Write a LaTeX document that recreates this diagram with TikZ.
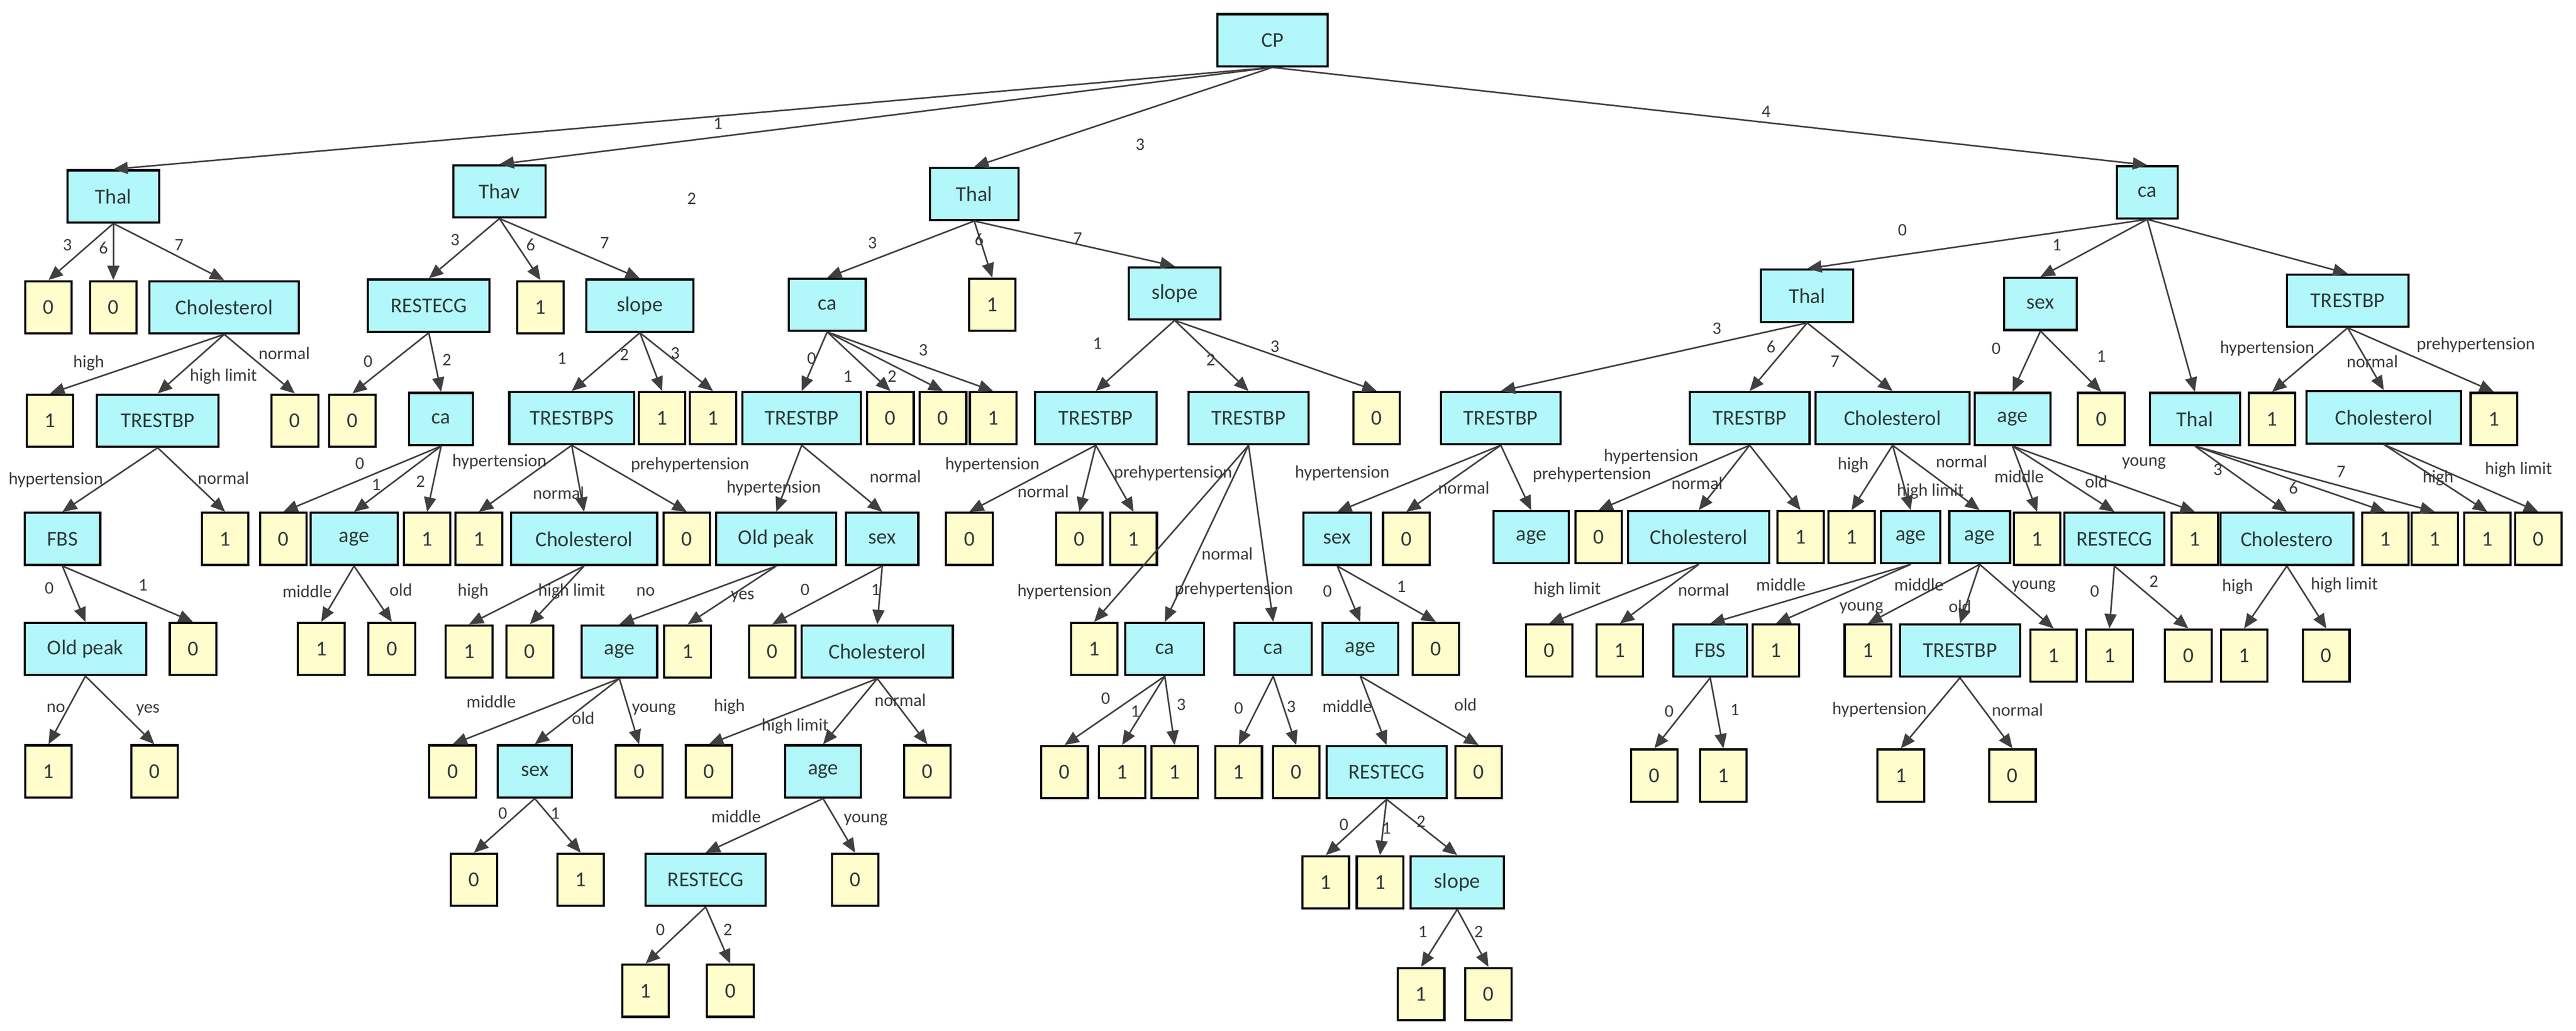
\documentclass[tikz,border=0pt]{standalone}
\usepackage{fontspec}
\setmainfont{Carlito}
\usetikzlibrary{arrows.meta}
\definecolor{bfill}{HTML}{B2F7F9}
\definecolor{lfill}{HTML}{FFFDCC}
\definecolor{tcol}{HTML}{2E3A3A}
\definecolor{ecol}{HTML}{404040}
\tikzset{
  bx/.style={draw=black,line width=1.5pt,fill=bfill,minimum height=1.3cm,inner sep=0pt,text=tcol,font=\fontsize{15}{18}\selectfont},
  lf/.style={draw=black,line width=1.5pt,fill=lfill,minimum height=1.3cm,minimum width=1.16cm,inner sep=0pt,text=tcol,font=\fontsize{15}{18}\selectfont},
  ed/.style={draw=ecol,line width=1.1pt,-{Triangle[length=0.36cm,width=0.3cm]}},
  lb/.style={text=ecol!90!black,inner sep=0pt,font=\fontsize{12.5}{14}\selectfont}
}
\newcommand\NB[5]{\node[bx,minimum width=#4*0.04096cm] (#1) at (#2,#3) {#5};}
\newcommand\NL[4]{\node[lf] (#1) at (#2,#3) {#4};}
\newcommand\ED[5]{\draw[ed] (#1.south) -- (#2.north); \node[lb] at (#3,#4) {#5};}
\newcommand\EDn[2]{\draw[ed] (#1.south) -- (#2.north);}
\begin{document}
\begin{tikzpicture}[x=0.04096cm,y=-0.04096cm]
\useasboundingbox[fill=white] (0,0) rectangle (1568,627.4);
% root
\NB{CP}{774.5}{24.5}{67}{CP}
\NB{T1}{69}{119.5}{56}{Thal}
\NB{Tv}{304}{116.5}{56}{Thav}
\NB{T3}{593}{118}{54}{Thal}
\NB{C4}{1307}{117}{37}{ca}
\ED{CP}{T1}{437}{75}{1}
\ED{CP}{Tv}{421}{121}{2}
\ED{CP}{T3}{694}{88}{3}
\ED{CP}{C4}{1075}{68}{4}
% Thal1 subtree
\NL{a1}{29.5}{187}{0}
\NL{a2}{69}{187}{0}
\NB{ch1}{136.5}{187}{91}{Cholesterol}
\ED{T1}{a1}{41}{149}{3}
\ED{T1}{a2}{63}{151}{6}
\ED{T1}{ch1}{109}{149}{7}
\NL{a3}{30.5}{256}{1}
\NB{tb1}{96}{256}{74}{TRESTBP}
\NL{a4}{179.5}{256}{0}
\ED{ch1}{a3}{54}{221}{high}
\ED{ch1}{tb1}{136}{229}{high limit}
\ED{ch1}{a4}{173}{215}{normal}
\NB{fbs1}{38}{328}{46}{FBS}
\NL{a5}{137}{328}{1}
\ED{tb1}{fbs1}{34}{292}{hypertension}
\ED{tb1}{a5}{136}{291}{normal}
\NB{op1}{52}{395}{74}{Old peak}
\NL{a6}{117.5}{395}{0}
\ED{fbs1}{op1}{30}{358}{0}
\ED{fbs1}{a6}{87}{356}{1}
\NL{a7}{29.5}{469.5}{1}
\NL{a8}{94}{469.5}{0}
\ED{op1}{a7}{34}{431}{no}
\ED{op1}{a8}{90}{432}{yes}
% Thav subtree
\NB{rc1}{261}{186}{74}{RESTECG}
\NL{b1}{329}{187}{1}
\NB{sl1}{389.5}{186}{65}{slope}
\ED{Tv}{rc1}{277}{146}{3}
\ED{Tv}{b1}{323}{149}{6}
\ED{Tv}{sl1}{368}{148}{7}
\NL{b2}{214.5}{256}{0}
\NB{ca1}{268.5}{255}{39}{ca}
\ED{rc1}{b2}{224}{220}{0}
\ED{rc1}{ca1}{272}{219}{2}
\NL{b3}{172.5}{328}{0}
\NB{ag1}{215.5}{328}{53}{age}
\NL{b4}{260}{328}{1}
\ED{ca1}{b3}{219}{282}{0}
\ED{ca1}{ag1}{229}{295}{1}
\ED{ca1}{b4}{256}{293}{2}
\NL{b5}{195.5}{395}{1}
\NL{b6}{238.5}{395}{0}
\ED{ag1}{b5}{187}{360}{middle}
\ED{ag1}{b6}{244}{359}{old}
\NB{tbs}{348}{254.5}{76}{TRESTBPS}
\NL{b7}{403}{254.5}{1}
\NL{b8}{434}{254.5}{1}
\ED{sl1}{tbs}{342}{218}{1}
\ED{sl1}{b7}{380}{216}{2}
\ED{sl1}{b8}{411}{215}{3}
\NL{b9}{291.5}{328}{1}
\NB{ch2}{355.5}{328}{89}{Cholesterol}
\NL{b10}{418}{328}{0}
\ED{tbs}{b9}{304}{281}{hypertension}
\ED{tbs}{ch2}{340}{300}{normal}
\ED{tbs}{b10}{420}{283}{prehypertension}
\NL{b11}{285.5}{396.5}{1}
\NL{b12}{322.5}{396.5}{0}
\ED{ch2}{b11}{288}{360}{high}
\ED{ch2}{b12}{348}{360}{high limit}
% Thal3 subtree
\NB{ca2}{503.5}{185.5}{47}{ca}
\NL{c1}{604}{185.5}{1}
\NB{sl2}{715}{178.5}{56}{slope}
\ED{T3}{ca2}{531}{148}{3}
\ED{T3}{c1}{596}{146}{6}
\ED{T3}{sl2}{656}{145}{7}
\NB{tb2}{488}{254.5}{72}{TRESTBP}
\NL{c2}{542}{254.5}{0}
\NL{c3}{574}{254.5}{0}
\NL{c4}{604.5}{254.5}{1}
\ED{ca2}{tb2}{494}{218}{0}
\ED{ca2}{c2}{516}{229}{1}
\ED{ca2}{c3}{543}{229}{2}
\ED{ca2}{c4}{562}{213}{3}
\NB{op2}{472.5}{328}{73}{Old peak}
\NB{sx1}{537}{328}{44}{sex}
\ED{tb2}{op2}{471}{297}{hypertension}
\ED{tb2}{sx1}{545}{290}{normal}
\NB{ag2}{377}{396.5}{46}{age}
\NL{c5}{418.5}{396.5}{1}
\ED{op2}{ag2}{393}{360}{no}
\ED{op2}{c5}{452}{363}{yes}
\NL{c6}{275.5}{469.5}{0}
\NB{sx2}{325.5}{469.5}{45}{sex}
\NL{c7}{389}{469.5}{0}
\ED{ag2}{c6}{299}{427}{middle}
\ED{ag2}{sx2}{355}{437}{old}
\ED{ag2}{c7}{398}{432}{young}
\NL{c8}{288.5}{535.5}{0}
\NL{c9}{353.5}{535.5}{1}
\ED{sx2}{c8}{306}{495}{0}
\ED{sx2}{c9}{338}{495}{1}
\NL{c10}{470}{396.5}{0}
\NB{ch3}{534}{396.5}{92}{Cholesterol}
\ED{sx1}{c10}{490}{359}{0}
\ED{sx1}{ch3}{533}{359}{1}
\NL{c11}{431.5}{469.5}{0}
\NB{ag3}{501}{469.5}{46}{age}
\NL{c12}{564.5}{469.5}{0}
\ED{ch3}{c11}{444}{430}{high}
\ED{ch3}{ag3}{484}{442}{high limit}
\ED{ch3}{c12}{548}{426}{normal}
\NB{rc2}{429.5}{535.5}{73}{RESTECG}
\NL{c13}{520.5}{535.5}{0}
\ED{ag3}{rc2}{448}{497}{middle}
\ED{ag3}{c13}{527}{499}{young}
\NL{c14}{393}{603}{1}
\NL{c15}{444.5}{603}{0}
\ED{rc2}{c14}{402}{566}{0}
\ED{rc2}{c15}{443}{566}{2}
\NB{tb3}{667}{254.5}{74}{TRESTBP}
\NB{tb4}{760}{254.5}{73}{TRESTBP}
\NL{d1}{838}{254.5}{0}
\ED{sl2}{tb3}{668}{209}{1}
\ED{sl2}{tb4}{737}{219}{2}
\ED{sl2}{d1}{776}{211}{3}
\NL{d2}{590}{328}{0}
\NL{d3}{657}{328}{0}
\NL{d4}{690}{328}{1}
\ED{tb3}{d2}{604}{283}{hypertension}
\ED{tb3}{d3}{635}{299}{normal}
\ED{tb3}{d4}{714}{288}{prehypertension}
\NL{d5}{666}{395}{1}
\NB{ca3}{709}{395}{48}{ca}
\NB{ca4}{775}{395}{47}{ca}
\ED{tb4}{d5}{648}{360}{hypertension}
\ED{tb4}{ca3}{747}{337}{normal}
\ED{tb4}{ca4}{751}{359}{prehypertension}
\NL{d6}{648}{470}{0}
\NL{d7}{683}{470}{1}
\NL{d8}{715}{470}{1}
\ED{ca3}{d6}{673}{425}{0}
\ED{ca3}{d7}{691}{433}{1}
\ED{ca3}{d8}{719}{429}{3}
\NL{d9}{754}{470}{1}
\NL{d10}{789}{470}{0}
\ED{ca4}{d9}{754}{431}{0}
\ED{ca4}{d10}{786}{430}{3}
% ca subtree
\NB{th4}{1100}{180}{56}{Thal}
\NB{sx4}{1242}{185}{44}{sex}
\NB{th5}{1336}{255}{55}{Thal}
\NB{tb6}{1429}{183}{74}{TRESTBP}
\ED{C4}{th4}{1158}{140}{0}
\ED{C4}{sx4}{1252}{149}{1}
\EDn{C4}{th5}
\EDn{C4}{tb6}
\NB{tb5}{913.5}{254.5}{73}{TRESTBP}
\NB{tb7}{1065}{254.5}{73}{TRESTBP}
\NB{ch4}{1152}{254.5}{94}{Cholesterol}
\ED{th4}{tb5}{1045}{200}{3}
\ED{th4}{tb7}{1078}{211}{6}
\ED{th4}{ch4}{1117}{220}{7}
\NB{sx3}{814}{328}{41}{sex}
\NL{e1}{856}{328}{0}
\NB{ag4}{932}{327}{46}{age}
\ED{tb5}{sx3}{817}{288}{hypertension}
\ED{tb5}{e1}{891}{297}{normal}
\ED{tb5}{ag4}{969}{289}{prehypertension}
\NB{ag5}{828}{395}{46}{age}
\NL{e2}{874}{395}{0}
\ED{sx3}{ag5}{808}{360}{0}
\ED{sx3}{e2}{853}{357}{1}
\NB{rc3}{844}{470}{73}{RESTECG}
\NL{e3}{900}{470}{0}
\ED{ag5}{rc3}{820}{430}{middle}
\ED{ag5}{e3}{892}{429}{old}
\NL{e4}{807}{537}{1}
\NL{e5}{840}{537}{1}
\NB{sl3}{887}{537}{57}{slope}
\ED{rc3}{e4}{818}{502}{0}
\ED{rc3}{e5}{844}{504}{1}
\ED{rc3}{sl3}{865}{500}{2}
\NL{e6}{865}{605}{1}
\NL{e7}{906}{605}{0}
\ED{sl3}{e6}{866}{567}{1}
\ED{sl3}{e7}{900}{567}{2}
\NL{e8}{973}{327}{0}
\NB{ch5}{1034}{327}{86}{Cholesterol}
\NL{e9}{1096}{327}{1}
\ED{tb7}{e8}{1005}{278}{hypertension}
\ED{tb7}{ch5}{1033}{294}{normal}
\EDn{tb7}{e9}
\NL{e10}{943}{396}{0}
\NL{e11}{986}{396}{1}
\ED{ch5}{e10}{954}{359}{high limit}
\ED{ch5}{e11}{1037}{359}{normal}
\NL{e12}{1127}{327}{1}
\NB{ag6}{1163}{327}{36}{age}
\NB{ag7}{1205}{327}{37}{age}
\ED{ch4}{e12}{1128}{283}{high}
\ED{ch4}{ag6}{1175}{299}{high limit}
\ED{ch4}{ag7}{1194}{281}{normal}
\NB{fbs2}{1041}{396}{45}{FBS}
\NL{e13}{1081}{396}{1}
\ED{ag6}{fbs2}{1084}{356}{middle}
\ED{ag6}{e13}{1133}{370}{young}
\NL{e14}{1007}{472}{0}
\NL{e15}{1049}{472}{1}
\ED{fbs2}{e14}{1016}{433}{0}
\ED{fbs2}{e15}{1056}{432}{1}
\NL{e16}{1137}{396}{1}
\NB{tb8}{1193}{396}{73}{TRESTBP}
\NL{e17}{1250}{399}{1}
\ED{ag7}{e16}{1168}{356}{middle}
\ED{ag7}{tb8}{1193}{369}{old}
\ED{ag7}{e17}{1238}{357}{young}
\NL{e18}{1157}{472}{1}
\NL{e19}{1225}{472}{0}
\ED{tb8}{e18}{1144}{432}{hypertension}
\ED{tb8}{e19}{1228}{432}{normal}
\NB{ag8}{1225}{255}{46}{age}
\NL{e20}{1279}{255}{0}
\ED{sx4}{ag8}{1215}{212}{0}
\ED{sx4}{e20}{1279}{217}{1}
\NL{e21}{1240}{328}{1}
\NB{rc4}{1287}{328}{61}{RESTECG}
\NL{e22}{1336}{328}{1}
\ED{ag8}{e21}{1229}{290}{middle}
\ED{ag8}{rc4}{1276}{293}{old}
\ED{ag8}{e22}{1305}{282}{young}
\NL{e23}{1284}{399}{1}
\NL{e24}{1332}{399}{0}
\ED{rc4}{e23}{1275}{360}{0}
\ED{rc4}{e24}{1311}{354}{2}
\NB{ch7}{1392}{328}{81}{Cholestero}
\NL{e25}{1452}{328}{1}
\NL{e26}{1482}{328}{1}
\ED{th5}{ch7}{1350}{286}{3}
\ED{th5}{e25}{1396}{297}{6}
\ED{th5}{e26}{1425}{287}{7}
\NL{e27}{1366}{399}{1}
\NL{e28}{1416}{399}{0}
\ED{ch7}{e27}{1362}{357}{high}
\ED{ch7}{e28}{1427}{356}{high limit}
\NL{e29}{1383}{255}{1}
\NB{ch6}{1451}{254}{94}{Cholesterol}
\NL{e30}{1518}{255}{1}
\ED{tb6}{e29}{1380}{212}{hypertension}
\ED{tb6}{ch6}{1444}{220}{normal}
\ED{tb6}{e30}{1507}{210}{prehypertension}
\NL{e31}{1514}{328}{1}
\NL{e32}{1545}{328}{0}
\ED{ch6}{e31}{1484}{291}{high}
\ED{ch6}{e32}{1533}{286}{high limit}
\end{tikzpicture}
\end{document}
